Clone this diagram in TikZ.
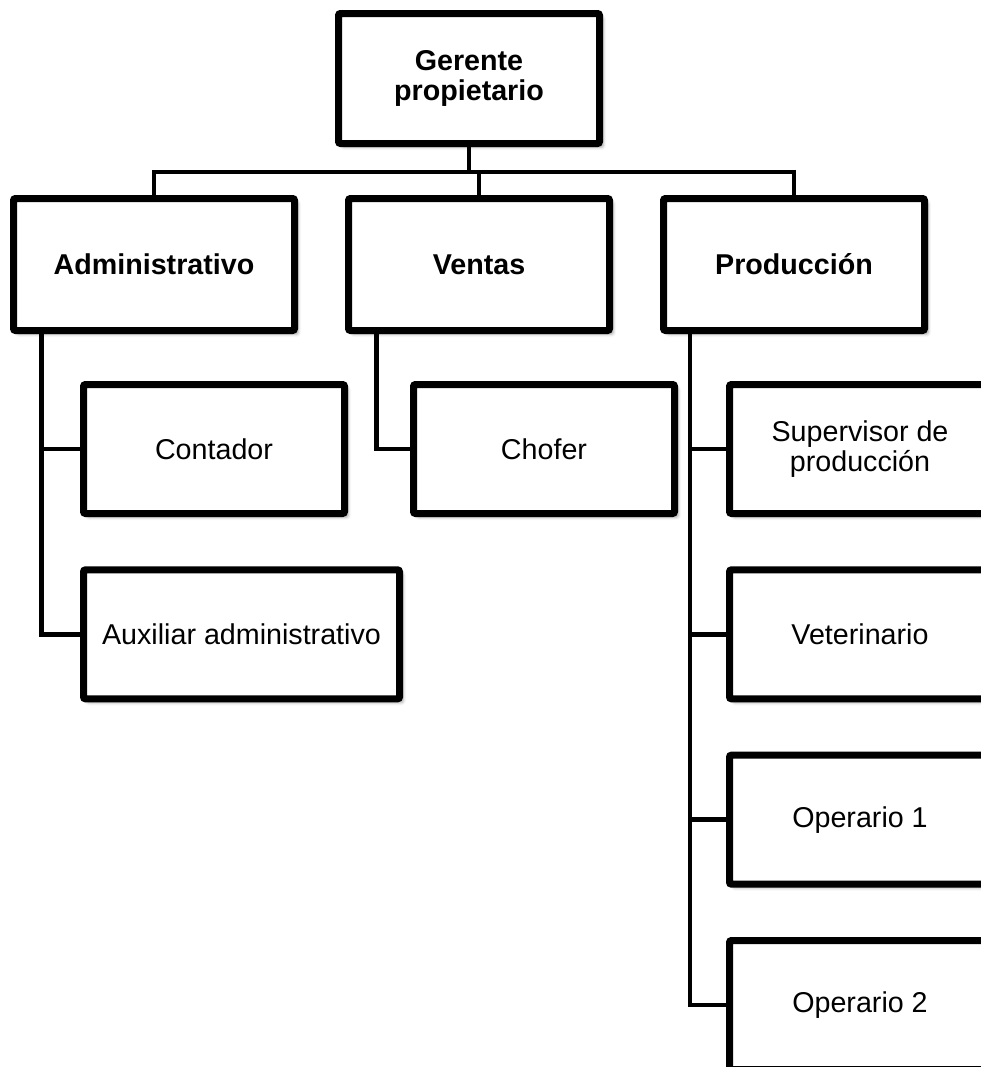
\documentclass[tikz,border=0pt]{standalone}
\usepackage{fontspec}
\setmainfont{Liberation Sans}
\usetikzlibrary{positioning,calc,shadows.blur}
\tikzset{
  puesto/.style={rectangle,rounded corners=1.5pt,draw=black,line width=5.25pt,fill=white,
    align=center,inner sep=2pt,minimum width=195.75pt,minimum height=96.75pt,
    font=\fontsize{21.5}{22.5}\selectfont,
    blur shadow={shadow xshift=2.8pt,shadow yshift=-2.8pt,shadow blur radius=2.2pt,shadow opacity=35}},
  jefe/.style={puesto,font=\fontsize{21.5}{22.5}\selectfont\bfseries,minimum height=99pt},
  linea/.style={line width=3.7pt,draw=black},
}
\begin{document}
\begin{tikzpicture}[x=0.75pt,y=-0.75pt]
  \clip (0,0) rectangle (981,1067);
  \node[jefe,minimum height=97.5pt] (ger) at (469,78.5) {Gerente\\propietario};
  \node[jefe,minimum width=210.75pt] (adm) at (154,264.5) {Administrativo};
  \node[jefe,right=35.25pt of adm] (ven) {Ventas};
  \node[jefe,right=35.25pt of ven] (prod) {Producción};
  \node[puesto] (cont) at (214,449) {Contador};
  \node[puesto,below=37pt of cont.south west,anchor=north west,minimum width=237pt] (aux) {Auxiliar administrativo};
  \node[puesto] (chof) at (544,449) {Chofer};
  \node[puesto] (sup) at (860,449) {Supervisor de\\producción};
  \node[puesto,below=37pt of sup] (vet) {Veterinario};
  \node[puesto,below=37pt of vet] (op1) {Operario 1};
  \node[puesto,below=37pt of op1] (op2) {Operario 2};
  % lineas de mando
  \coordinate (bus) at (0,172);
  \draw[linea] (ger.south) -- (ger.south |- bus);
  \draw[linea] (adm.north) |- (bus -| prod.north) -- (prod.north);
  \draw[linea] (ven.north) -- (ven.north |- bus);
  \coordinate (ejeA) at ($(adm.south west)+(31.5,0)$);
  \coordinate (ejeV) at ($(ven.south west)+(31.5,0)$);
  \coordinate (ejeP) at ($(prod.south west)+(30,0)$);
  \draw[linea] (ejeA) |- (aux.west);
  \draw[linea] (ejeA |- cont.west) -- (cont.west);
  \draw[linea] (ejeV) |- (chof.west);
  \draw[linea] (ejeP) |- (op2.west);
  \draw[linea] (ejeP |- sup.west) -- (sup.west);
  \draw[linea] (ejeP |- vet.west) -- (vet.west);
  \draw[linea] (ejeP |- op1.west) -- (op1.west);
\end{tikzpicture}
\end{document}
